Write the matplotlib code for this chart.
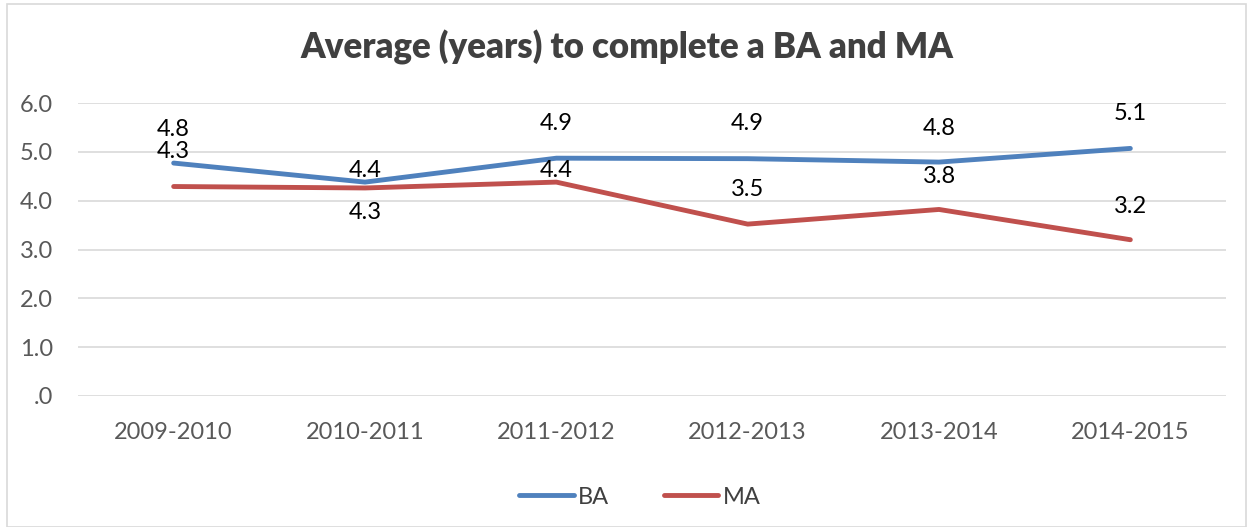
import numpy as np
import matplotlib.pyplot as plt
from matplotlib.patches import Rectangle

# Daten
years = ['2009-2010', '2010-2011', '2011-2012', '2012-2013', '2013-2014', '2014-2015']
ba = [4.77, 4.38, 4.87, 4.86, 4.79, 5.07]
ma = [4.29, 4.26, 4.38, 3.52, 3.82, 3.20]

# Label-Versatz in Punkten (wie im Original manuell verschoben)
ba_off = [24, 8, 25, 25, 24, 25]
ma_off = [25, -18, 8, 25, 24, 24]

plt.rcParams['font.family'] = ['Lato', 'DejaVu Sans']

fig = plt.figure(figsize=(12.53, 5.27), dpi=100)
ax = fig.add_axes([78/1253, 1-396/527, (1226-78)/1253, (396-103)/527])

x = np.arange(len(years))
ax.plot(x, ba, color='#4F81BD', lw=3.5, solid_capstyle='round', label='BA')
ax.plot(x, ma, color='#C0504D', lw=3.5, solid_capstyle='round', label='MA')

for i in range(len(x)):
    ax.annotate('%.1f' % ba[i], (x[i], ba[i]), xytext=(0, ba_off[i]), textcoords='offset points',
                ha='center', va='center', fontsize=17, color='black')
    ax.annotate('%.1f' % ma[i], (x[i], ma[i]), xytext=(0, ma_off[i]), textcoords='offset points',
                ha='center', va='center', fontsize=17, color='black')

ax.set_xlim(-0.5, len(years)-0.5)
ax.set_ylim(0, 6)
ax.set_yticks(np.arange(0, 7, 1))
ax.set_yticklabels(['.0'] + ['%.1f' % v for v in range(1, 7)])
ax.set_xticks(x)
ax.set_xticklabels(years)
ax.tick_params(axis='both', length=0, labelsize=17, colors='#595959')
ax.tick_params(axis='x', pad=19)
ax.tick_params(axis='y', pad=18)
ax.grid(axis='y', color='#D9D9D9', lw=1.2)
ax.set_axisbelow(True)
for s in ax.spines.values():
    s.set_visible(False)

fig.suptitle('Average (years) to complete a BA and MA', y=1-47/527, va='center',
             fontsize=25, fontweight='heavy', color='#404040')

fig.legend(loc='center', bbox_to_anchor=(640/1253, 1-497/527), ncol=2, frameon=False,
           fontsize=17, handlelength=2.3, columnspacing=2.3, handletextpad=0.2,
           labelcolor='#404040')

fig.patches.append(Rectangle((7/1253, 0), 1-14/1253, 1-4/527, transform=fig.transFigure,
                             fill=False, edgecolor='#D9D9D9', lw=1.2))

fig.savefig('out.png', dpi=100)
